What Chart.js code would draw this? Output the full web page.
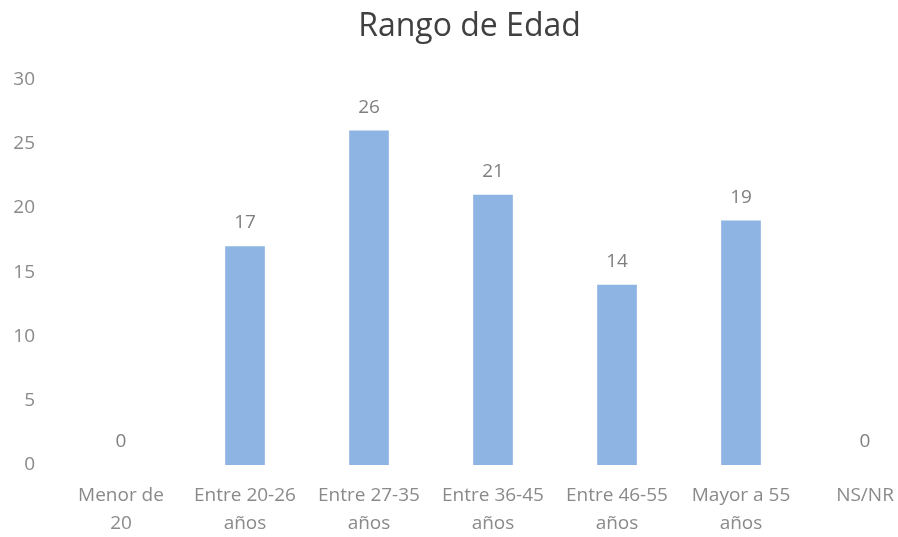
<!DOCTYPE html>
<html>
<head>
<meta charset="utf-8">
<script src="https://cdn.jsdelivr.net/npm/chart.js@4.4.1/dist/chart.umd.min.js"></script>
<style>
    html, body { margin: 0; padding: 0; background: #fff; overflow: hidden; }
    .chart-container { width: 952px; height: 537px; }
</style>
</head>
<body>
<div class="chart-container"><canvas id="edadChart"></canvas></div>
<script>
const categories = [
    ['Menor de', '20'],
    ['Entre 20-26', 'años'],
    ['Entre 27-35', 'años'],
    ['Entre 36-45', 'años'],
    ['Entre 46-55', 'años'],
    ['Mayor a 55', 'años'],
    'NS/NR'
];
const personas = [0, 17, 26, 21, 14, 19, 0];
const yTicks = [0, 5, 10, 15, 20, 25, 30];

const fontName = "'Open Sans', 'Liberation Sans', sans-serif";
const barColor = '#8db4e2';

// numbers over each bar
const barValues = {
    id: 'barValues',
    afterDatasetsDraw(chart) {
        const ctx = chart.ctx;
        const meta = chart.getDatasetMeta(0);
        ctx.save();
        ctx.font = '19px ' + fontName;
        ctx.fillStyle = '#7f7f7f';
        ctx.textAlign = 'center';
        ctx.textBaseline = 'bottom';
        meta.data.forEach((bar, i) => {
            ctx.fillText(personas[i], bar.x, bar.y - 14);
        });
        ctx.restore();
    }
};

new Chart(document.getElementById('edadChart'), {
    type: 'bar',
    data: {
        labels: categories,
        datasets: [{
            label: 'Rango de Edad',
            data: personas,
            backgroundColor: c => c.raw === 0 ? 'rgba(0,0,0,0)' : barColor,
            borderWidth: 0,
            barThickness: 39
        }]
    },
    options: {
        responsive: true,
        maintainAspectRatio: false,
        animation: false,
        layout: { padding: { left: 12, right: 25, top: 4, bottom: 0 } },
        plugins: {
            legend: { display: false },
            tooltip: { enabled: false },
            title: {
                display: true,
                text: 'Rango de Edad',
                color: '#404040',
                font: { family: fontName, size: 32, weight: 'normal' },
                padding: { top: 4, bottom: 33 }
            }
        },
        scales: {
            x: {
                afterFit: scale => { scale.height = 72; },
                grid: { display: false, drawTicks: false },
                border: { display: false },
                ticks: {
                    color: '#8a8a8a',
                    font: { family: fontName, size: 19, lineHeight: 1.47 },
                    padding: 17,
                    maxRotation: 0,
                    autoSkip: false
                }
            },
            y: {
                min: 0,
                max: 30,
                afterBuildTicks: scale => {
                    scale.ticks = yTicks.map(v => ({ value: v }));
                },
                afterFit: scale => { scale.width = 47; },
                grid: { display: false, drawTicks: false },
                border: { display: false },
                ticks: {
                    color: '#8a8a8a',
                    font: { family: fontName, size: 19 },
                    padding: 24
                }
            }
        }
    },
    plugins: [barValues]
});
</script>
</body>
</html>
